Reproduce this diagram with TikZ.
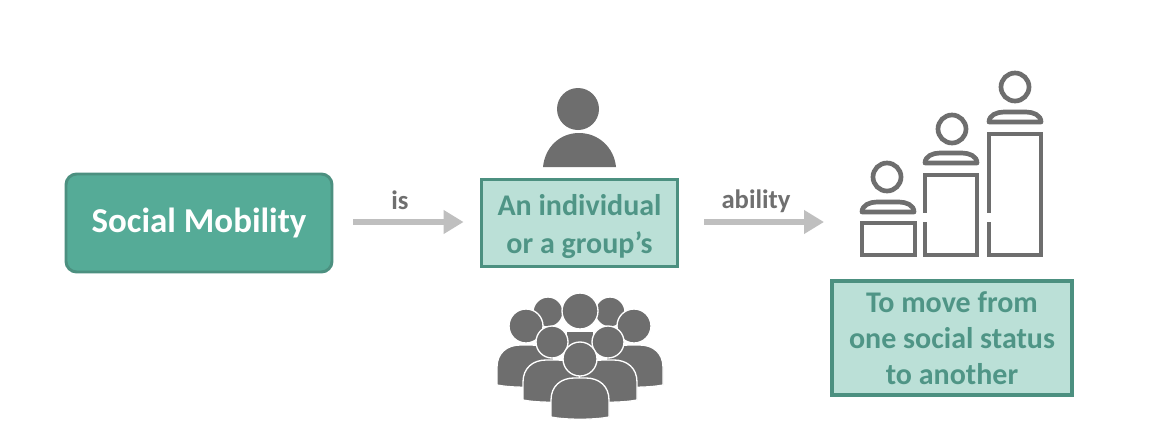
\documentclass[tikz,border=0pt]{standalone}
\usepackage{fontspec}
\setmainfont{Carlito}
\usetikzlibrary{arrows.meta}
\definecolor{teal1}{HTML}{55AB97}
\definecolor{teal2}{HTML}{4C9080}
\definecolor{mint}{HTML}{BBE0D7}
\definecolor{tealtxt}{HTML}{4F9586}
\definecolor{arrowgray}{HTML}{BFBFBF}
\definecolor{icongray}{HTML}{6E6E6E}
\definecolor{labelgray}{HTML}{6F6F6F}
\newcommand{\pbody}[4]{% cx, top, halfwidth, bottom
  \path[persona] (#1-#3,#4-1) -- (#1-#3,#2+22) .. controls (#1-#3,#2+8) and (#1-#3+10,#2) .. (#1-#3+23,#2)
    -- (#1+#3-23,#2) .. controls (#1+#3-10,#2) and (#1+#3,#2+8) .. (#1+#3,#2+22) -- (#1+#3,#4-1)
    .. controls (#1+#3*0.5,#4+2) and (#1-#3*0.5,#4+2) .. (#1-#3,#4-1) -- cycle;}
\newcommand{\phead}[3]{\path[persona] (#1,#2) circle[radius=#3];}
\newcommand{\shoulder}[2]{% left x, top y
  \draw[stairline,line join=round] (#1+2,#2+11) .. controls (#1+2,#2+4) and (#1+10,#2+1) .. (#1+17,#2+1)
    -- (#1+39,#2+1) .. controls (#1+46,#2+1) and (#1+54,#2+4) .. (#1+54,#2+11) -- cycle;}
\tikzset{
  x=0.75pt,y=-0.75pt,
  persona/.style={fill=icongray,draw=white,line width=1pt},
  stairline/.style={draw=icongray,line width=3.5pt},
  flowarrow/.style={draw=arrowgray,line width=4.2pt,-{Triangle[length=15pt,width=17pt]}},
  mainbox/.style={rectangle,rounded corners=8pt,fill=teal1,draw=teal2,line width=2.2pt,text=white,font=\fontsize{26.2}{30}\selectfont\bfseries,minimum width=199.5pt,minimum height=73.5pt},
  mintbox/.style={rectangle,fill=mint,draw=teal2,line width=2.4pt,text=tealtxt,align=center,font=\fontsize{22.5}{27}\selectfont\bfseries,inner sep=0pt},
  edgelabel/.style={text=labelgray,font=\fontsize{20}{22}\selectfont\bfseries,inner sep=0pt},
}
\begin{document}
\begin{tikzpicture}
\useasboundingbox (0,0) rectangle (1152,436);
\fill[white] (0,0) rectangle (1152,436);
\node[mainbox] (sm) at (199,223) {Social Mobility};
\node[mintbox,minimum width=147.5pt,minimum height=65pt] (ind) at (579.5,223) {\rule{0pt}{21pt}An individual\\[1pt]or a group’s};
\node[mintbox,minimum width=180pt,minimum height=85.5pt] (status) at (952,338) {To move from\\one social status\\to another};
\coordinate (stairsw) at (824,222);
\draw[flowarrow,shorten <=15pt,shorten >=12pt] (sm.east|-stairsw) -- (ind.west|-stairsw);
\draw[flowarrow,shorten <=18.5pt] (ind.east|-stairsw) -- (stairsw);
\node[edgelabel] (is) at (400,200) {is};
\node[edgelabel] (ab) at (756,201) {ability};
% single person
\fill[icongray] (578,109) circle[radius=21];
\fill[icongray] (543,167) .. controls (545,147) and (560,133) .. (579,133) .. controls (598,133) and (614,147) .. (616,167) -- cycle;
% group
\phead{548}{312}{15}\phead{610}{312}{15}
\path[persona] (566,331) rectangle (594,350);
\phead{580}{311}{18}
\pbody{526}{345}{29}{386}\pbody{634}{345}{29}{386}
\phead{526}{326}{17}\phead{634}{326}{17}
\pbody{552}{360}{29}{401}\pbody{608}{360}{29}{401}
\phead{552}{342}{16}\phead{608}{342}{16}
\pbody{580}{378}{29}{418}
\phead{580}{359}{17}
% stairs
\draw[stairline] (887,177) circle[radius=14];
\draw[stairline] (952,129) circle[radius=14];
\draw[stairline] (1015,87) circle[radius=14];
\shoulder{860}{201}\shoulder{923}{152}\shoulder{987}{111}
\draw[stairline] (862,223) rectangle (915,255);
\draw[stairline] (925,222) -- (925,255) -- (977,255) -- (977,175) -- (925,175) -- (925,213);
\draw[stairline] (989,222) -- (989,255) -- (1041,255) -- (1041,134) -- (989,134) -- (989,213);
\end{tikzpicture}
\end{document}
